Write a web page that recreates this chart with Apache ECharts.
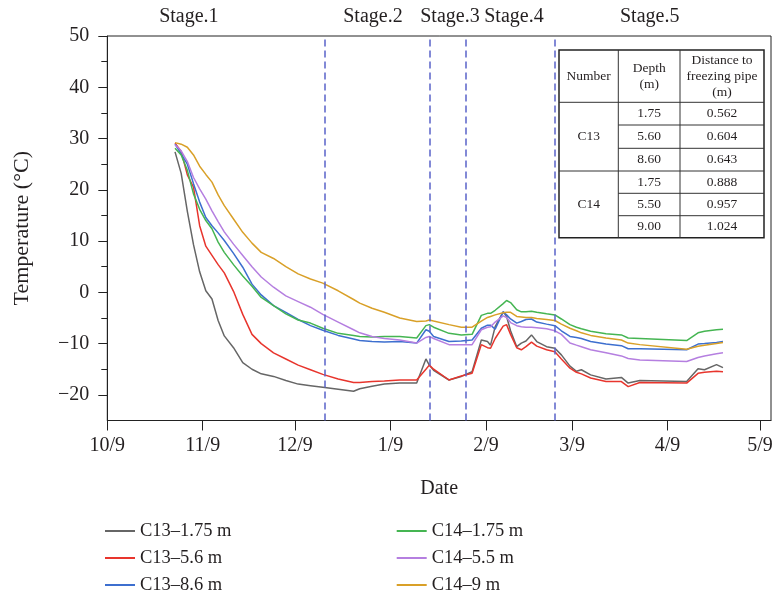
<!DOCTYPE html>
<html>
<head>
<meta charset="utf-8">
<script src="https://cdn.jsdelivr.net/npm/echarts@6/dist/echarts.min.js"></script>
<style>html,body{margin:0;padding:0;background:#fff}#c{width:773px;height:597px}</style>
</head>
<body>
<div id="c"></div>
<script>
// days since 10/9
const days = [22,24,26,28,30,32,34,36,38,41,44,47,50,54,58,62,66,70,75,80,82,86,90,95,100.5,103.5,104.6,106,111,115,118.5,121.5,123.5,124.5,126,128.6,129.7,131,133,134.5,136,137.8,139.5,142.7,145.4,147.5,150.3,152.4,154,157,162,167,169.2,173,188.2,191.9,194,197.9,200];
const c13_175 = [27.4,23.2,15.8,9.3,4.0,0.3,-1.3,-5.5,-8.5,-10.8,-13.7,-15.0,-15.9,-16.4,-17.2,-17.9,-18.2,-18.5,-18.9,-19.3,-18.8,-18.3,-17.9,-17.7,-17.7,-13.0,-14.2,-15.2,-17.1,-16.4,-15.5,-9.3,-9.6,-10.3,-6.7,-3.8,-4.7,-7.5,-10.6,-9.9,-9.5,-8.3,-9.6,-10.6,-10.9,-12.2,-14.4,-15.4,-15.1,-16.1,-16.9,-16.6,-17.7,-17.2,-17.4,-14.9,-15.1,-14.1,-14.7];
const c13_56 = [29.1,27.5,22.9,20.5,13.0,9.0,7.2,5.4,3.8,0.2,-4.3,-8.2,-10.0,-11.8,-13.0,-14.2,-15.1,-16.0,-16.9,-17.6,-17.6,-17.4,-17.3,-17.1,-17.1,-15.0,-14.2,-15.0,-17.1,-16.3,-15.8,-10.2,-10.8,-10.9,-9.0,-6.6,-6.3,-8.2,-10.8,-11.2,-10.6,-9.7,-10.5,-11.2,-11.6,-13.0,-14.8,-15.6,-15.9,-16.7,-17.4,-17.4,-18.4,-17.6,-17.7,-15.8,-15.6,-15.4,-15.5];
const c13_86 = [28.9,27.0,25.0,21.2,17.6,14.6,13.0,11.6,10.1,7.6,4.9,1.6,-0.5,-2.6,-3.9,-5.3,-6.5,-7.4,-8.4,-9.1,-9.4,-9.6,-9.7,-9.6,-9.9,-7.3,-7.6,-8.6,-9.6,-9.5,-9.3,-7.0,-6.4,-6.4,-7.2,-3.8,-4.4,-5.2,-6.0,-5.7,-5.3,-5.2,-5.8,-6.2,-6.5,-7.5,-8.6,-8.8,-9.0,-9.6,-10.1,-10.4,-11.0,-11.0,-11.2,-10.1,-10.0,-9.8,-9.6];
const c14_175 = [28.1,26.8,23.8,19.2,16.2,14.0,12.4,9.8,7.8,5.4,3.2,1.2,-1.0,-2.6,-4.2,-5.4,-6.0,-7.0,-8.0,-8.4,-8.6,-8.7,-8.6,-8.6,-8.9,-6.5,-6.3,-6.8,-8.0,-8.3,-8.2,-4.5,-4.1,-4.1,-3.5,-2.2,-1.6,-2.0,-3.4,-3.8,-3.8,-3.7,-3.9,-4.2,-4.4,-5.2,-6.3,-6.8,-7.1,-7.6,-8.1,-8.3,-8.9,-9.0,-9.4,-7.9,-7.6,-7.3,-7.2];
const c14_55 = [28.8,27.6,25.5,22.4,20.2,18.2,15.9,13.8,11.8,9.4,7.2,5.0,3.0,1.0,-0.7,-1.8,-2.9,-4.3,-5.8,-7.3,-7.9,-8.6,-9.0,-9.3,-9.9,-8.8,-8.6,-9.0,-10.2,-10.2,-10.2,-7.3,-6.8,-6.7,-5.8,-4.6,-4.9,-5.9,-6.5,-6.7,-6.8,-6.8,-6.9,-7.1,-7.5,-8.2,-9.9,-10.3,-10.6,-11.2,-11.8,-12.4,-12.9,-13.2,-13.5,-12.7,-12.4,-12.0,-11.8];
const c14_9 = [29.2,28.9,28.3,26.8,24.6,23.0,21.5,19.0,16.9,14.3,11.7,9.6,7.8,6.6,5.0,3.6,2.6,1.8,0.3,-1.4,-2.1,-3.1,-3.9,-5.0,-5.7,-5.6,-5.4,-5.6,-6.3,-6.8,-6.8,-5.6,-4.9,-4.7,-4.4,-4.0,-3.9,-3.9,-4.7,-4.8,-4.9,-4.9,-5.1,-5.3,-5.5,-6.2,-7.0,-7.5,-7.9,-8.4,-8.9,-9.3,-9.9,-10.2,-11.1,-10.5,-10.3,-10.0,-9.8];

const seriesNames = ['C13\u20131.75 m','C13\u20135.6 m','C13\u20138.6 m','C14\u20131.75 m','C14\u20135.5 m','C14\u20139 m'];
const seriesColors = ['#666666','#e8352d','#3d6fcf','#45b552','#b57fe0','#d9a028'];
const seriesValues = [c13_175, c13_56, c13_86, c14_175, c14_55, c14_9];

const xTickDays = [0,31,61,92,123,151,182,212];
const xTickLabels = ['10/9','11/9','12/9','1/9','2/9','3/9','4/9','5/9'];
const yTickMajor = [-20,-10,0,10,20,30,40,50];
const yTickMinor = [-15,-5,5,15,25,35,45];

const stageBounds = [70.8, 104.6, 116.4, 145.5];
const stageNames = ['Stage.1','Stage.2','Stage.3','Stage.4','Stage.5'];
const stageLabelDays = [26.5, 86.3, 111.3, 132.1, 176.2];

const tableHeader = ['Number','Depth\n(m)','Distance to\nfreezing pipe\n(m)'];
const tableGroups = ['C13','C14'];
const tableDepth = ['1.75','5.60','8.60','1.75','5.50','9.00'];
const tableDist = ['0.562','0.604','0.643','0.888','0.957','1.024'];

const FONT = '"Liberation Serif","DejaVu Serif",serif';
const TXT = '#231f20';
const chart = echarts.init(document.getElementById('c'));

const fmtNum = v => (v < 0 ? '\u2212' + Math.abs(v) : String(v));

const series = seriesValues.map((vals, i) => ({
  name: seriesNames[i],
  type: 'line',
  symbol: 'none',
  data: vals.map((v, k) => [days[k], v]),
  lineStyle: { width: 1.5, color: seriesColors[i] },
  itemStyle: { color: seriesColors[i] },
  z: 3
}));
series[0].markLine = {
  silent: true,
  symbol: 'none',
  label: { show: false },
  lineStyle: { type: [7, 4], color: '#5a63c9', width: 1.5 },
  data: stageBounds.map(d => ({ xAxis: d }))
};

const legendCommon = {
  orient: 'vertical',
  icon: 'rect',
  itemWidth: 30,
  itemHeight: 2,
  itemGap: 7,
  padding: 0,
  height: 80,
  textStyle: { fontFamily: FONT, fontSize: 18.5, color: TXT, lineHeight: 20 }
};

chart.setOption({
  animation: false,
  grid: { left: 107.3, right: 2, top: 36, bottom: 176.5, show: true, borderColor: '#222', borderWidth: 1, containLabel: false, outerBoundsMode: 'none' },
  legend: [
    Object.assign({ left: 105, top: 521, data: seriesNames.slice(0, 3) }, legendCommon),
    Object.assign({ left: 396.7, top: 521, data: seriesNames.slice(3) }, legendCommon)
  ],
  xAxis: {
    type: 'value', min: 0, max: 215.6,
    name: 'Date', nameLocation: 'middle', nameGap: 58,
    nameTextStyle: { fontFamily: FONT, fontSize: 20, color: TXT },
    axisLine: { onZero: false, lineStyle: { color: '#222', width: 1 } },
    axisTick: { customValues: xTickDays, length: 10, lineStyle: { color: '#222' } },
    axisLabel: { customValues: xTickDays, margin: 15, fontFamily: FONT, fontSize: 20, color: TXT,
      formatter: v => xTickLabels[xTickDays.indexOf(v)] },
    splitLine: { show: false }
  },
  yAxis: [{
    type: 'value', min: -25, max: 50,
    name: 'Temperature (\u00B0C)', nameLocation: 'middle', nameGap: 74,
    nameTextStyle: { fontFamily: FONT, fontSize: 22, color: TXT },
    axisLine: { show: true, onZero: false, lineStyle: { color: '#222', width: 1 } },
    axisTick: { show: true, customValues: yTickMajor, length: 9, lineStyle: { color: '#222' } },
    axisLabel: { customValues: yTickMajor, margin: 18, fontFamily: FONT, fontSize: 20, color: TXT, formatter: fmtNum },
    splitLine: { show: false }
  }, {
    type: 'value', min: -25, max: 50, position: 'left',
    axisLine: { show: false, onZero: false },
    axisTick: { show: true, customValues: yTickMinor, length: 6, lineStyle: { color: '#222' } },
    axisLabel: { show: false },
    splitLine: { show: false }
  }],
  series: series
});

// stage labels and table
const gfx = [];
stageNames.forEach((s, i) => {
  const px = chart.convertToPixel({ xAxisIndex: 0 }, stageLabelDays[i]);
  gfx.push({ type: 'text', x: px, y: 17, style: { text: s, font: '20px ' + FONT, fill: TXT, align: 'center', verticalAlign: 'middle' } });
});
const tL = 559, tR = 764, c1 = 618.3, c2 = 680;
const rows = [50, 102.3, 125, 148.3, 171, 193.3, 215.7, 237.7];
gfx.push({ type: 'rect', shape: { x: tL, y: rows[0], width: tR - tL, height: rows[7] - rows[0] }, style: { fill: '#fff', stroke: '#222', lineWidth: 1.5 }, z: 10 });
const lineStyle = { stroke: '#333', lineWidth: 1 };
gfx.push({ type: 'line', shape: { x1: c1, y1: rows[0], x2: c1, y2: rows[7] }, style: lineStyle, z: 11 });
gfx.push({ type: 'line', shape: { x1: c2, y1: rows[0], x2: c2, y2: rows[7] }, style: lineStyle, z: 11 });
gfx.push({ type: 'line', shape: { x1: tL, y1: rows[1], x2: tR, y2: rows[1] }, style: lineStyle, z: 11 });
gfx.push({ type: 'line', shape: { x1: tL, y1: rows[4], x2: tR, y2: rows[4] }, style: lineStyle, z: 11 });
[2, 3, 5, 6].forEach(r => gfx.push({ type: 'line', shape: { x1: c1, y1: rows[r], x2: tR, y2: rows[r] }, style: lineStyle, z: 11 }));
const tFont = '13.5px ' + FONT;
const hc = [(tL + c1) / 2, (c1 + c2) / 2, (c2 + tR) / 2];
tableHeader.forEach((h, i) => gfx.push({ type: 'text', x: hc[i], y: (rows[0] + rows[1]) / 2, style: { text: h, font: tFont, fill: TXT, align: 'center', verticalAlign: 'middle', lineHeight: 16 }, z: 12 }));
tableGroups.forEach((g, i) => gfx.push({ type: 'text', x: hc[0], y: (rows[1 + 3 * i] + rows[4 + 3 * i]) / 2, style: { text: g, font: tFont, fill: TXT, align: 'center', verticalAlign: 'middle' }, z: 12 }));
tableDepth.forEach((d, i) => {
  const yc = (rows[1 + i] + rows[2 + i]) / 2;
  gfx.push({ type: 'text', x: hc[1], y: yc, style: { text: d, font: tFont, fill: TXT, align: 'center', verticalAlign: 'middle' }, z: 12 });
  gfx.push({ type: 'text', x: hc[2], y: yc, style: { text: tableDist[i], font: tFont, fill: TXT, align: 'center', verticalAlign: 'middle' }, z: 12 });
});
chart.setOption({ graphic: gfx });
</script>
</body>
</html>
